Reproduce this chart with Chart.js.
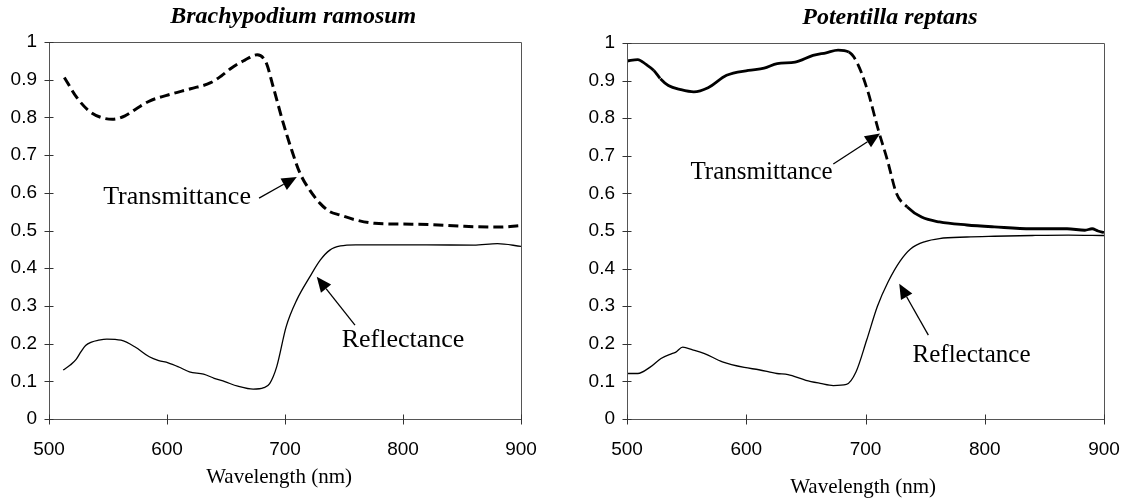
<!DOCTYPE html>
<html><head><meta charset="utf-8">
<script src="https://cdn.jsdelivr.net/npm/chart.js@4.4.1/dist/chart.umd.min.js"></script>
<style>
html,body{margin:0;padding:0;background:#fff;width:1125px;height:498px;overflow:hidden}
canvas{position:absolute;top:0}
#c1{left:0}#c2{left:562px}
</style></head><body>
<canvas id="c1" width="562" height="498"></canvas>
<canvas id="c2" width="563" height="498"></canvas>
<script>
// ---- axis ticks ----
const xTicks = [500, 600, 700, 800, 900];
const xTickLabels = ['500', '600', '700', '800', '900'];
const yTicks = [0, 0.1, 0.2, 0.3, 0.4, 0.5, 0.6, 0.7, 0.8, 0.9, 1];
const yTickLabels = ['0', '0.1', '0.2', '0.3', '0.4', '0.5', '0.6', '0.7', '0.8', '0.9', '1'];

// ---- Brachypodium ramosum ----
const brachyTransWl  = [513, 523.5, 534, 544, 553.8, 564.4, 575, 585.6, 603.7, 620, 637, 646, 655, 666, 676.4, 684, 690, 698.6, 705.6, 712.7, 721, 729.7, 738, 746.6, 760, 776, 800, 822, 852, 882, 899];
const brachyTrans    = [0.906, 0.853, 0.817, 0.800, 0.795, 0.804, 0.825, 0.844, 0.862, 0.876, 0.892, 0.910, 0.932, 0.952, 0.966, 0.945, 0.881, 0.784, 0.714, 0.652, 0.607, 0.572, 0.550, 0.541, 0.528, 0.519, 0.517, 0.516, 0.511, 0.509, 0.513];
const brachyReflWl   = [512, 518, 523, 527, 531, 536, 542, 549, 561, 573, 585, 593, 601, 610, 619, 631, 640, 649, 660, 673, 682, 687, 693, 701, 710, 721, 730, 738, 747, 760, 780, 820, 860, 880, 900];
const brachyRefl     = [0.130, 0.143, 0.158, 0.178, 0.195, 0.204, 0.209, 0.212, 0.209, 0.191, 0.165, 0.155, 0.149, 0.138, 0.125, 0.119, 0.108, 0.099, 0.087, 0.079, 0.083, 0.094, 0.139, 0.245, 0.316, 0.377, 0.422, 0.448, 0.459, 0.462, 0.462, 0.462, 0.461, 0.465, 0.458];

// ---- Potentilla reptans ----
const potTransWl = [500, 509, 516, 522.5, 528, 534.7, 545, 556, 568, 583.5, 601.7, 615, 626, 641, 656, 667, 677, 686, 692.6, 701.7, 710.8, 718.4, 726, 735, 747, 762, 785, 808, 839, 869, 884, 890, 895, 900];
const potTrans   = [0.952, 0.956, 0.943, 0.927, 0.905, 0.887, 0.876, 0.870, 0.881, 0.914, 0.927, 0.933, 0.945, 0.949, 0.967, 0.974, 0.981, 0.976, 0.950, 0.874, 0.768, 0.688, 0.600, 0.564, 0.537, 0.524, 0.516, 0.511, 0.506, 0.506, 0.502, 0.506, 0.500, 0.496];
const potReflWl  = [500, 509, 519.4, 528.5, 537.6, 541, 546.7, 555, 565, 580, 598.4, 610.6, 625.7, 635, 650, 662, 673, 684, 692, 701, 710, 719, 729, 738, 750, 762, 785, 808, 840, 870, 900];
const potRefl    = [0.121, 0.121, 0.138, 0.161, 0.174, 0.178, 0.191, 0.184, 0.174, 0.152, 0.137, 0.131, 0.121, 0.118, 0.103, 0.095, 0.089, 0.092, 0.125, 0.210, 0.300, 0.365, 0.420, 0.453, 0.472, 0.480, 0.484, 0.486, 0.488, 0.489, 0.488];

const titles = ['Brachypodium ramosum', 'Potentilla reptans'];
const xAxisTitle = 'Wavelength (nm)';

const pts = (xs, ys) => xs.map((x, i) => ({x: x, y: ys[i]}));

const SANS = '"Liberation Sans", Arial, sans-serif';
const SERIF = '"Liberation Serif", "Times New Roman", serif';

const decor = {
  id: 'decor',
  afterDraw(chart, args, o) {
    const {ctx, chartArea: a, scales: {x, y}} = chart;
    ctx.save();
    ctx.setLineDash([]);
    // frame
    ctx.strokeStyle = '#555';
    ctx.lineWidth = 1;
    const L = Math.round(a.left) + 0.5, R = Math.round(a.right) + 0.5;
    const T = Math.round(a.top) + 0.5, B = Math.round(a.bottom) + 0.5;
    ctx.beginPath();
    ctx.moveTo(L, T); ctx.lineTo(R, T); ctx.lineTo(R, B); ctx.lineTo(L, B); ctx.closePath();
    ctx.stroke();
    // cross tick marks
    ctx.strokeStyle = '#333';
    ctx.beginPath();
    xTicks.forEach(v => {
      const px = Math.round(x.getPixelForValue(v)) + 0.5;
      ctx.moveTo(px, B - 5); ctx.lineTo(px, B + 5);
    });
    yTicks.forEach(v => {
      const py = Math.round(y.getPixelForValue(v)) + 0.5;
      ctx.moveTo(L - 5, py); ctx.lineTo(L + 4, py);
    });
    ctx.stroke();
    // title
    ctx.fillStyle = '#000';
    ctx.font = 'bold italic ' + o.titleSize + 'px ' + SERIF;
    ctx.textAlign = 'center';
    ctx.textBaseline = 'middle';
    ctx.fillText(o.title, x.getPixelForValue(o.titleX), o.titleY);
    // axis title
    ctx.font = o.axisTitleSize + 'px ' + SERIF;
    ctx.fillText(xAxisTitle, x.getPixelForValue(o.axisTitleX), o.axisTitleY);
    // annotations
    o.notes.forEach(n => {
      ctx.font = n.size + 'px ' + SERIF;
      ctx.textAlign = 'center';
      ctx.textBaseline = 'middle';
      ctx.fillText(n.text, x.getPixelForValue(n.tx), y.getPixelForValue(n.ty));
      const x0 = x.getPixelForValue(n.from[0]), y0 = y.getPixelForValue(n.from[1]);
      const x1 = x.getPixelForValue(n.to[0]), y1 = y.getPixelForValue(n.to[1]);
      const ang = Math.atan2(y1 - y0, x1 - x0);
      const hl = 15, hw = 6.5;
      const bx = x1 - hl * Math.cos(ang), by = y1 - hl * Math.sin(ang);
      ctx.strokeStyle = '#000';
      ctx.lineWidth = 1.3;
      ctx.beginPath(); ctx.moveTo(x0, y0); ctx.lineTo(bx, by); ctx.stroke();
      ctx.fillStyle = '#000';
      ctx.beginPath();
      ctx.moveTo(x1, y1);
      ctx.lineTo(bx + hw * Math.sin(ang), by - hw * Math.cos(ang));
      ctx.lineTo(bx - hw * Math.sin(ang), by + hw * Math.cos(ang));
      ctx.closePath(); ctx.fill();
    });
    ctx.restore();
  }
};

function makeChart(id, cfg) {
  return new Chart(document.getElementById(id), {
    type: 'line',
    data: {datasets: cfg.datasets},
    options: {
      responsive: false,
      animation: false,
      devicePixelRatio: 1,
      layout: {padding: {left: 0, right: cfg.padRight, top: cfg.padTop, bottom: 0}},
      plugins: {legend: {display: false}, tooltip: {enabled: false}, title: {display: false}, decor: cfg.decor},
      elements: {point: {radius: 0}},
      scales: {
        x: {
          type: 'linear', min: 500, max: 900,
          afterBuildTicks: s => { s.ticks = xTicks.map(v => ({value: v})); },
          afterFit: s => { s.height = cfg.xAxisH; },
          grid: {display: true, drawOnChartArea: false, drawTicks: true, tickLength: 17, color: 'rgba(0,0,0,0)'},
          border: {display: false},
          ticks: {padding: 2, color: '#000', font: {family: SANS, size: 19}, maxRotation: 0, autoSkip: false,
                  callback: (v, i) => xTickLabels[i]}
        },
        y: {
          type: 'linear', min: 0, max: 1,
          afterBuildTicks: s => { s.ticks = yTicks.map(v => ({value: v})); },
          afterFit: s => { s.width = cfg.yAxisW; },
          grid: {display: false, drawTicks: false},
          border: {display: false},
          ticks: {padding: 12, color: '#000', font: {family: SANS, size: 19}, autoSkip: false,
                  callback: (v, i) => yTickLabels[i]}
        }
      }
    },
    plugins: [decor]
  });
}

makeChart('c1', {
  yAxisW: 49, padRight: 41, padTop: 42, xAxisH: 79,
  datasets: [
    {data: pts(brachyTransWl, brachyTrans), borderColor: '#000', borderWidth: 3, borderDash: [10, 5],
     cubicInterpolationMode: 'monotone', fill: false},
    {data: pts(brachyReflWl, brachyRefl), borderColor: '#000', borderWidth: 1.3,
     cubicInterpolationMode: 'monotone', fill: false}
  ],
  decor: {
    title: titles[0], titleSize: 24, titleX: 707, titleY: 17,
    axisTitleSize: 21, axisTitleX: 695, axisTitleY: 477,
    notes: [
      {text: 'Transmittance', size: 26, tx: 608.5, ty: 0.589, from: [678, 0.586], to: [710, 0.642]},
      {text: 'Reflectance', size: 26, tx: 800, ty: 0.21, from: [759.3, 0.249], to: [726.9, 0.377]}
    ]
  }
});

makeChart('c2', {
  yAxisW: 65, padRight: 21, padTop: 43, xAxisH: 79,
  datasets: [
    {data: pts(potTransWl, potTrans), borderColor: '#000', borderWidth: 2.8,
     cubicInterpolationMode: 'monotone', fill: false,
     segment: {borderDash: c => Math.abs((c.p1.parsed.y - c.p0.parsed.y) / (c.p1.parsed.x - c.p0.parsed.x)) > 0.0035 ? [10, 5] : []}},
    {data: pts(potReflWl, potRefl), borderColor: '#000', borderWidth: 1.3,
     cubicInterpolationMode: 'monotone', fill: false}
  ],
  decor: {
    title: titles[1], titleSize: 24, titleX: 720.5, titleY: 18,
    axisTitleSize: 21, axisTitleX: 698, axisTitleY: 487,
    notes: [
      {text: 'Transmittance', size: 25, tx: 612.8, ty: 0.656, from: [673, 0.678], to: [712.2, 0.759]},
      {text: 'Reflectance', size: 25, tx: 788.9, ty: 0.17, from: [752.7, 0.223], to: [728.3, 0.36]}
    ]
  }
});
</script>
</body></html>
